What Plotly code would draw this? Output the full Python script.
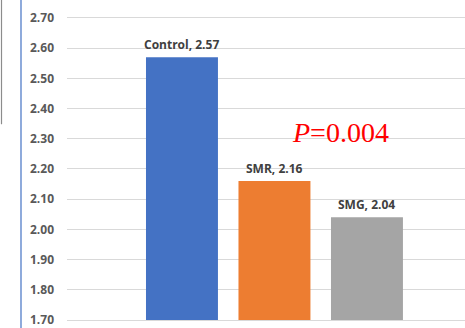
import plotly.graph_objects as go

categories = ["Control", "SMR", "SMG"]
values = [2.57, 2.16, 2.04]
axis_base = 1.70
colors = ["#4472C4", "#ED7D31", "#A5A5A5"]
tick_vals = [1.70, 1.80, 1.90, 2.00, 2.10, 2.20, 2.30, 2.40, 2.50, 2.60, 2.70]
tick_text = [f"{v:.2f}" for v in tick_vals]
p_text = "<i>P</i>=0.004"

fig = go.Figure()
fig.add_trace(go.Bar(
    x=categories, y=[v - axis_base for v in values], base=axis_base,
    marker=dict(color=colors, line=dict(width=0)),
    hoverinfo="skip", showlegend=False,
))

for c, v in zip(categories, values):
    fig.add_annotation(
        x=c, y=v, xref="x", yref="y", text=f"{c}, {v:.2f}", showarrow=False,
        yanchor="bottom", yshift=2,
        font=dict(family="Open Sans", size=12, color="#404040", weight="bold"),
    )

fig.add_annotation(
    x=1.71, y=2.322, xref="x", yref="y", text=p_text, showarrow=False,
    xanchor="center", yanchor="middle",
    font=dict(family="Liberation Serif", size=28, color="#FF0000"),
)

# decorative left border lines
fig.add_shape(type="line", xref="paper", yref="paper", x0=-46 / 398, x1=-46 / 398, y0=-0.02, y1=1.02,
              line=dict(color="#4472C4", width=1.2))
fig.add_shape(type="line", xref="paper", yref="paper", x0=-65.5 / 398, x1=-65.5 / 398,
              y0=(328 - 125) / 328, y1=1.02,
              line=dict(color="#8C8C8C", width=1.2))

fig.update_layout(
    width=465, height=328,
    margin=dict(l=67, r=0, t=0, b=0),
    paper_bgcolor="white", plot_bgcolor="white",
    bargap=0.222,
    xaxis=dict(range=[-1.243, 3.06], showticklabels=False, showgrid=False, zeroline=False,
               showline=False, ticks=""),
    yaxis=dict(range=[1.6803, 2.7592], tickvals=tick_vals, ticktext=tick_text,
               showgrid=True, gridcolor="#D9D9D9", gridwidth=1, zeroline=False, showline=False,
               ticks="", ticklabelstandoff=12, ticklabeloverflow="allow",
               tickfont=dict(family="Open Sans", size=12, color="#595959", weight="bold")),
)

fig.write_html("out.html")
